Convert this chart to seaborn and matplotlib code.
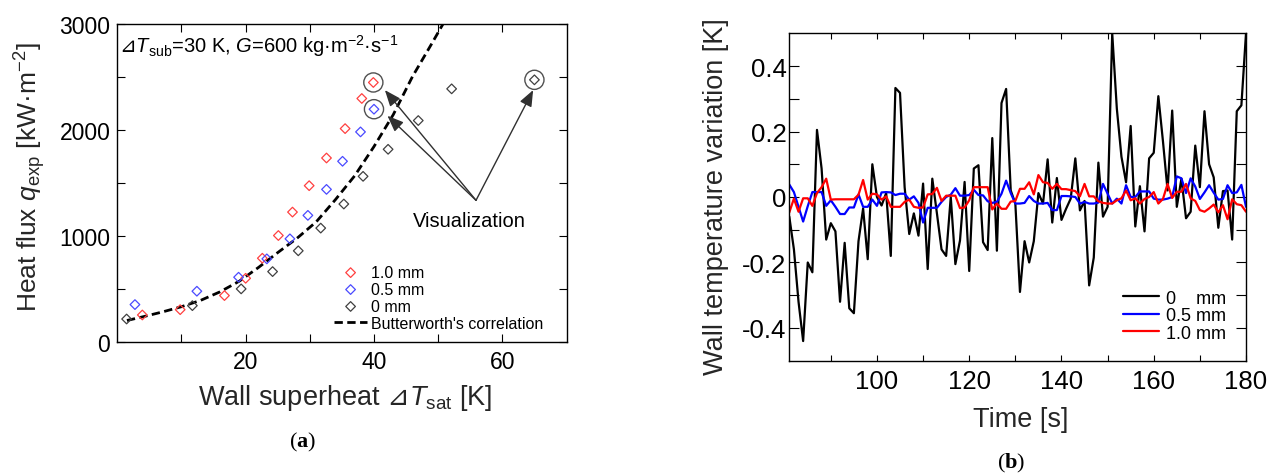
import numpy as np
import matplotlib
matplotlib.use("Agg")
import matplotlib.pyplot as plt
import seaborn as sns

# ---- (a) boiling curve ----
dt_10 = [3.9, 9.8, 16.7, 20.0, 22.6, 25.1, 27.3, 29.9, 32.6, 35.5, 38.1, 39.9]
q_10 = [252, 302, 435, 598, 787, 1001, 1222, 1471, 1732, 2009, 2293, 2444]
dt_05 = [2.75, 12.4, 18.9, 23.3, 26.9, 29.7, 32.6, 35.1, 37.9, 40.0]
q_05 = [350, 476, 608, 781, 970, 1191, 1436, 1701, 1978, 2192]
dt_00 = [1.45, 11.7, 19.3, 24.2, 28.2, 31.7, 35.3, 38.3, 42.2, 46.9, 52.1, 65.0]
q_00 = [214, 340, 498, 661, 857, 1071, 1298, 1559, 1814, 2085, 2384, 2469]
bw_dt = [1.5, 4, 7, 10, 13, 16, 19, 22, 25, 28, 31, 34, 37, 40, 43, 46, 49, 50.8]
bw_q = [200, 235, 280, 330, 390, 470, 570, 700, 840, 975, 1130, 1340, 1565, 1840,
        2140, 2500, 2810, 3000]
# visualization arrows: start point and tips
vis_from = (55.9, 1333)
vis_tips = [(41.7, 2372), (42.1, 2130), (64.8, 2372)]

# ---- (b) wall temperature variation, one value per second ----
time = np.arange(81, 181)
tw_00 = [-0.06, -0.16, -0.32, -0.44, -0.20, -0.23, 0.205, 0.087, -0.13, -0.08,
         -0.105, -0.32, -0.14, -0.34, -0.355, -0.135, -0.035, -0.19, 0.10, 0.0,
         -0.026, 0.012, -0.18, 0.333, 0.318, 0.03, -0.113, -0.05, -0.118, 0.041,
         -0.22, 0.056, -0.05, -0.16, -0.18, 0.0, -0.205, -0.133, 0.046, -0.226,
         0.087, 0.097, -0.138, -0.162, 0.18, -0.164, 0.287, 0.33, 0.02, -0.02,
         -0.29, -0.135, -0.2, -0.135, 0.012, -0.02, 0.115, -0.078, 0.058, -0.07,
         -0.036, -0.005, 0.118, -0.041, -0.012, -0.27, -0.185, 0.105, -0.06, -0.03,
         0.50, 0.27, 0.123, 0.045, 0.217, -0.09, 0.033, -0.105, 0.118, 0.135,
         0.308, 0.17, 0.02, 0.264, -0.03, 0.056, -0.065, -0.045, 0.157, 0.03,
         0.262, 0.10, 0.06, -0.094, 0.018, 0.02, -0.13, 0.262, 0.28, 0.5]
tw_05 = [0.038, 0.015, -0.03, -0.075, -0.028, 0.015, 0.015, 0.015, -0.027, -0.01,
         -0.03, -0.052, -0.052, -0.032, -0.032, 0.008, -0.03, -0.03, -0.008, -0.027,
         0.014, 0.015, 0.014, 0.006, 0.01, 0.01, -0.008, 0.002, -0.018, -0.078,
         -0.033, -0.033, -0.033, -0.015, 0.0, 0.007, 0.027, 0.004, 0.004, 0.006,
         0.022, 0.006, 0.005, -0.013, -0.018, -0.015, 0.01, 0.05, 0.012, -0.02,
         -0.02, -0.018, 0.003, -0.012, -0.02, -0.02, -0.018, -0.04, -0.04, 0.003,
         0.003, 0.002, 0.0, -0.02, -0.015, -0.02, -0.02, -0.017, 0.04, 0.01,
         -0.02, -0.005, -0.02, 0.036, 0.0, 0.0, 0.017, 0.017, 0.017, -0.005,
         -0.008, -0.008, -0.005, 0.0, 0.063, 0.057, 0.012, 0.057, 0.032, -0.006,
         0.014, 0.036, 0.013, -0.008, -0.006, 0.036, 0.012, 0.014, 0.037, -0.03]
tw_10 = [-0.047, -0.005, -0.045, -0.004, -0.004, -0.027, 0.012, 0.03, 0.056, -0.008,
         -0.007, -0.007, -0.007, -0.007, -0.007, 0.007, 0.052, -0.008, 0.01, 0.008,
         -0.008, 0.002, -0.03, -0.03, -0.03, -0.015, -0.008, -0.03, -0.033, -0.032,
         0.008, 0.009, 0.028, -0.012, 0.004, 0.004, 0.004, -0.034, -0.032, -0.01,
         0.03, 0.03, 0.03, 0.03, -0.038, -0.02, -0.036, -0.036, -0.014, -0.012,
         0.025, 0.025, 0.045, 0.008, 0.067, 0.045, 0.043, 0.025, 0.04, 0.024,
         0.024, 0.021, 0.018, 0.002, 0.04, 0.002, 0.002, -0.013, -0.018, -0.02,
         -0.02, -0.01, -0.004, 0.02, -0.01, -0.004, -0.02, -0.006, 0.0, 0.015,
         -0.02, -0.006, 0.04, -0.003, 0.016, 0.016, 0.04, -0.004, -0.012, -0.04,
         -0.045, -0.035, -0.023, -0.047, -0.025, -0.068, -0.007, -0.022, -0.025, -0.045]

sns.set_theme(style="ticks")
plt.rcParams["font.family"] = ["Liberation Sans", "DejaVu Sans"]
plt.rcParams["mathtext.fontset"] = "custom"
plt.rcParams["mathtext.rm"] = "Liberation Sans"
plt.rcParams["mathtext.it"] = "Liberation Sans:italic"
plt.rcParams["mathtext.bf"] = "Liberation Serif:bold"
plt.rcParams["mathtext.sf"] = "DejaVu Sans"  # only for the ⊿ sign
plt.rcParams["axes.edgecolor"] = "black"
plt.rcParams["axes.linewidth"] = 1.0
plt.rcParams["text.color"] = "black"
plt.rcParams["xtick.color"] = "black"
plt.rcParams["ytick.color"] = "black"

W, H = 1280, 477
fig = plt.figure(figsize=(W / 100, H / 100), dpi=100)


def fx(x):
    return x / W


def fy(y):
    return 1 - y / H


TRI = "\\mathsf{⊿}"

# ================= (a) =================
ax = fig.add_axes([fx(117.3), fy(342.7), (566.5 - 117.3) / W, (342.7 - 24.5) / H])

bw_line, = ax.plot(bw_dt, bw_q, color="black", lw=2.0, dashes=(3, 1.6),
                   label="Butterworth's correlation")
series_a = [(dt_10, q_10, "#ff4040", "1.0 mm"),
            (dt_05, q_05, "#4a4aff", "0.5 mm"),
            (dt_00, q_00, "#404040", "0 mm")]
for xs, ys, c, lab in series_a:
    sns.scatterplot(x=xs, y=ys, marker="D", s=24, facecolor="none", edgecolor=c,
                    linewidth=0.9, ax=ax, label=lab, zorder=3)

# circled points = last point of each series
cx = [dt_10[-1], dt_05[-1], dt_00[-1]]
cy = [q_10[-1], q_05[-1], q_00[-1]]
ax.scatter(cx, cy, s=190, facecolors="none", edgecolors="#505050", linewidths=1.0, zorder=4)

for tip in vis_tips:
    ax.annotate("", xy=tip, xytext=vis_from,
                arrowprops=dict(arrowstyle="-|>,head_length=0.7,head_width=0.28",
                                color="#303030", lw=1.0, shrinkA=0, shrinkB=0,
                                mutation_scale=14))
ax.text(54.9, 1144, "Visualization", ha="center", va="center", fontsize=14.5)
ax.text(0.004, 0.9095, f"${TRI}T_{{\\mathrm{{sub}}}}$=30 K, $G$=600 kg·m$^{{-2}}$·s$^{{-1}}$",
        transform=ax.transAxes, ha="left", va="baseline", fontsize=14.5)

ax.set_xlim(0, 70)
ax.set_ylim(0, 3000)
ax.set_xticks([10, 20, 30, 40, 50, 60])
ax.set_xticklabels(["", "20", "", "40", "", "60"])
ax.set_yticks([0, 500, 1000, 1500, 2000, 2500, 3000])
ax.set_yticklabels(["0", "", "1000", "", "2000", "", "3000"])
ax.tick_params(direction="in", top=True, right=True, length=5.5, width=0.8,
               labelsize=16.5)
ax.tick_params(axis="x", pad=6)
ax.tick_params(axis="y", pad=5)

ax.set_ylabel("Heat flux $q_{\\mathrm{exp}}$ [kW·m$^{-2}$]", fontsize=19, va="center")
ax.yaxis.set_label_coords(fx(30), fy(177), transform=fig.transFigure)
ax.set_xlabel(f"Wall superheat ${TRI}T_{{\\mathrm{{sat}}}}$ [K]", fontsize=19.5, va="center")
ax.xaxis.set_label_coords(fx(345), fy(398), transform=fig.transFigure)

h, l = ax.get_legend_handles_labels()
order = ["1.0 mm", "0.5 mm", "0 mm", "Butterworth's correlation"]
hmap = dict(zip(l, h))
ax.legend([hmap[k] for k in order], order, loc="lower left",
          bbox_to_anchor=(0.482, 0.035), frameon=False, fontsize=11.5,
          handlelength=2.1, handletextpad=0.2, labelspacing=0.12,
          borderpad=0, borderaxespad=0)

# ================= (b) =================
bx = fig.add_axes([fx(789.3), fy(361.7), (1246 - 789.3) / W, (361.7 - 34.3) / H])
sns.lineplot(x=time, y=tw_00, color="black", lw=1.6, ax=bx, label="0    mm")
sns.lineplot(x=time, y=tw_05, color="#0000ff", lw=1.6, ax=bx, label="0.5 mm")
sns.lineplot(x=time, y=tw_10, color="#ff0000", lw=1.6, ax=bx, label="1.0 mm")

bx.set_xlim(81, 180)
bx.set_ylim(-0.5, 0.5)
bx.set_xticks(np.arange(90, 181, 10))
bx.set_xticklabels(["", "100", "", "120", "", "140", "", "160", "", "180"])
yt = [-0.4, -0.3, -0.2, -0.1, 0.0, 0.1, 0.2, 0.3, 0.4]
bx.set_yticks(yt)
bx.set_yticklabels(["-0.4", "", "-0.2", "", "0", "", "0.2", "", "0.4"])
bx.tick_params(direction="in", top=True, right=True, width=0.8, labelsize=18.5)
bx.tick_params(axis="x", length=4, pad=6)
bx.tick_params(axis="y", length=7, pad=2)

bx.set_ylabel("Wall temperature variation [K]", fontsize=19.5, va="center")
bx.yaxis.set_label_coords(fx(716), fy(197), transform=fig.transFigure)
bx.set_xlabel("Time [s]", fontsize=19.5, va="center")
bx.xaxis.set_label_coords(fx(1021), fy(420), transform=fig.transFigure)

bx.legend(loc="lower left", bbox_to_anchor=(0.730, 0.058), frameon=False,
          fontsize=13, handlelength=2.0, handletextpad=0.4, labelspacing=0.03,
          borderpad=0, borderaxespad=0)

fig.text(fx(303), fy(442), "($\\mathbf{a}$)", family="Liberation Serif",
         ha="center", va="center", fontsize=16)
fig.text(fx(1011), fy(463), "($\\mathbf{b}$)", family="Liberation Serif",
         ha="center", va="center", fontsize=16)

fig.savefig("out.png", dpi=100, facecolor="white")
